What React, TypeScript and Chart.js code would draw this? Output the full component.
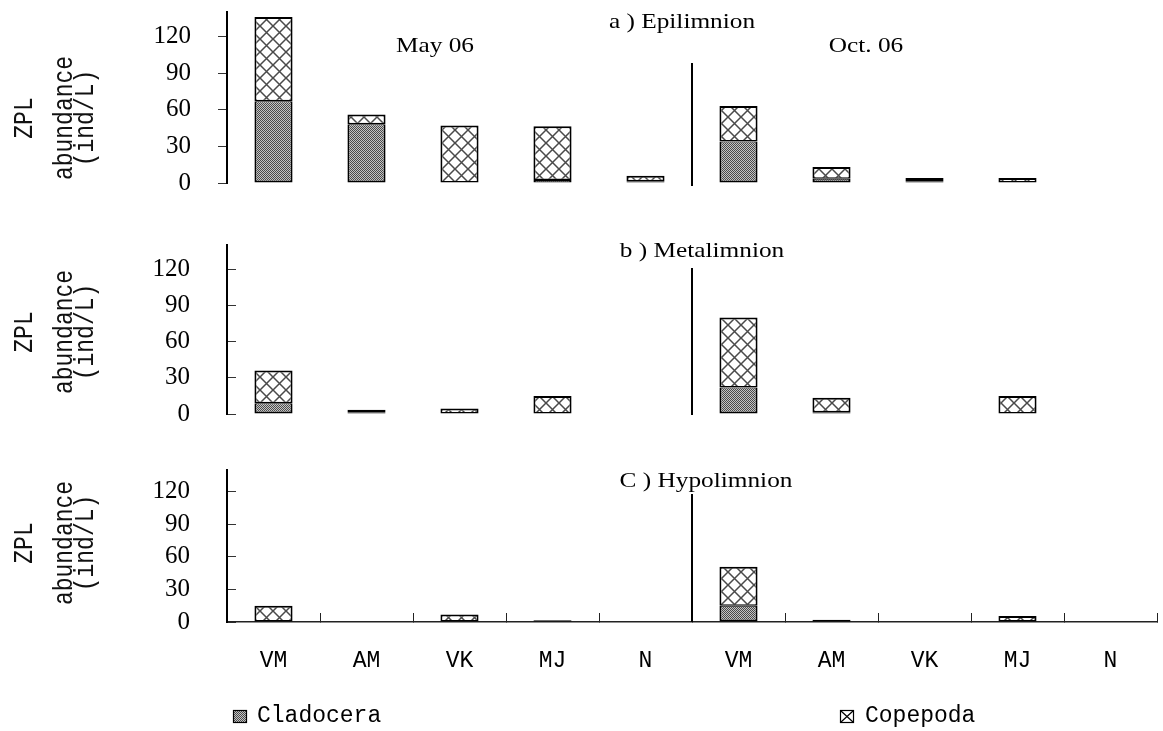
import React, { useEffect, useRef } from "react";
import { Chart, registerables } from "chart.js";

Chart.register(...registerables);

// ---------- data ----------
const categories = ["VM", "AM", "VK", "MJ", "N", "VM", "AM", "VK", "MJ", "N"];
const yTicks = [0, 30, 60, 90, 120];
const yMax = 140;
const seriesNames = ["Cladocera", "Copepoda"];
const panelTitles = ["a ) Epilimnion", "b ) Metalimnion", "C ) Hypolimnion"];
const periodLabels = ["May 06", "Oct. 06"];
const yTitleLines = ["ZPL", "abundance", "(ind/L)"];

const epiCladocera = [67, 48, 0, 2.5, 1.5, 34, 3.5, 1.5, 0.5, 0];
const epiCopepoda = [69, 8, 47, 44, 4.5, 29, 9.5, 2.5, 3.5, 0];

const metaCladocera = [9, 1, 0.5, 0, 0, 22, 1.5, 0, 0, 0];
const metaCopepoda = [27, 2.5, 4, 15, 0, 58, 12, 0, 15, 0];

const hypoCladocera = [0, 0, 0, 1.5, 0, 15, 2, 0, 0.5, 0];
const hypoCopepoda = [15, 0, 7, 0, 0, 36, 0, 0, 5, 0];

// ---------- layout ----------
const PAGE_W = 1163;
const PAGE_H = 731;
const AXIS_LEFT = 227;
const AXIS_RIGHT = 1157;
const X_AXIS_H = 60;
const SERIF = "'Liberation Serif', 'Times New Roman', serif";
const MONO = "'Liberation Mono', 'DejaVu Sans Mono', monospace";
const TEXT_STRETCH = 1.15;
const yTitleBaselines = [32, 72, 93];
const periodX = [435, 866];
const periodY = 52;

const panels = [
  {
    title: panelTitles[0], clad: epiCladocera, cope: epiCopepoda,
    areaTop: 12, areaBottom: 183, tickLen: 9, tickPad: 27, showX: false,
    titleX: 682, titleY: 28, dividerTop: 63, dividerBottom: 186, labelCy: 118,
  },
  {
    title: panelTitles[1], clad: metaCladocera, cope: metaCopepoda,
    areaTop: 245, areaBottom: 414, tickLen: -9, tickPad: 46, showX: false,
    titleX: 702, titleY: 257, dividerTop: 268, dividerBottom: 415, labelCy: 332,
  },
  {
    title: panelTitles[2], clad: hypoCladocera, cope: hypoCopepoda,
    areaTop: 470, areaBottom: 622, tickLen: -9, tickPad: 46, showX: true,
    titleX: 706, titleY: 487, dividerTop: 494, dividerBottom: 622, labelCy: 543,
  },
];

// ---------- patterns ----------
function makeCladPattern(ctx: CanvasRenderingContext2D) {
  const c = document.createElement("canvas");
  c.width = 4;
  c.height = 4;
  const g = c.getContext("2d")!;
  g.fillStyle = "#c4c4c4";
  g.fillRect(0, 0, 4, 4);
  g.fillStyle = "#4a4a4a";
  for (let y = 0; y < 4; y++)
    for (let x = 0; x < 4; x++) if ((x + y) % 2 === 0) g.fillRect(x, y, 1, 1);
  return ctx.createPattern(c, "repeat")!;
}

function makeCopePattern(ctx: CanvasRenderingContext2D) {
  const s = 13;
  const c = document.createElement("canvas");
  c.width = s;
  c.height = s;
  const g = c.getContext("2d")!;
  g.fillStyle = "#ffffff";
  g.fillRect(0, 0, s, s);
  g.strokeStyle = "#4a4a4a";
  g.lineWidth = 1.5;
  g.beginPath();
  g.moveTo(-1, -1);
  g.lineTo(s + 1, s + 1);
  g.moveTo(s + 1, -1);
  g.lineTo(-1, s + 1);
  g.stroke();
  return ctx.createPattern(c, "repeat")!;
}

// ---------- text helpers ----------
function drawStretched(ctx: CanvasRenderingContext2D, text: string, cx: number, by: number, sx: number) {
  ctx.save();
  ctx.translate(cx, by);
  ctx.scale(sx, 1);
  ctx.textAlign = "center";
  ctx.textBaseline = "alphabetic";
  ctx.fillText(text, 0, 0);
  ctx.restore();
}

function drawRotated(ctx: CanvasRenderingContext2D, text: string, bx: number, cy: number, sy: number) {
  ctx.save();
  ctx.translate(bx, cy);
  ctx.rotate(-Math.PI / 2);
  ctx.scale(1, sy);
  ctx.textAlign = "center";
  ctx.textBaseline = "alphabetic";
  ctx.fillText(text, 0, 0);
  ctx.restore();
}

function decorPlugin(p: any, idx: number, cladPat: CanvasPattern) {
  return {
    id: "decor" + idx,
    afterDraw(chart: any) {
      const ctx: CanvasRenderingContext2D = chart.ctx;
      const xs = chart.scales.x;
      ctx.save();
      ctx.fillStyle = "#000";
      ctx.font = `22px ${SERIF}`;
      drawStretched(ctx, p.title, p.titleX, p.titleY, TEXT_STRETCH);
      if (idx === 0) {
        periodLabels.forEach((t, k) => drawStretched(ctx, t, periodX[k], periodY, TEXT_STRETCH));
      }
      // divider between the two sampling periods
      const xDiv = (xs.getPixelForValue(4) + xs.getPixelForValue(5)) / 2;
      ctx.strokeStyle = "#000";
      ctx.lineWidth = 2;
      ctx.beginPath();
      ctx.moveTo(xDiv, p.dividerTop);
      ctx.lineTo(xDiv, p.dividerBottom);
      ctx.stroke();
      // y title
      ctx.fillStyle = "#111";
      ctx.font = `23px ${MONO}`;
      yTitleLines.forEach((t, k) => drawRotated(ctx, t, yTitleBaselines[k], p.labelCy, 1.2));
      // legend
      if (idx === 2) {
        ctx.lineWidth = 1.2;
        ctx.strokeStyle = "#000";
        ctx.fillStyle = cladPat;
        ctx.fillRect(233, 710, 14, 13);
        ctx.strokeRect(233.5, 710.5, 13, 12);
        ctx.fillStyle = "#fff";
        ctx.fillRect(840, 710, 14, 13);
        ctx.strokeRect(840.5, 710.5, 13, 12);
        ctx.beginPath();
        ctx.moveTo(841, 711);
        ctx.lineTo(853, 722);
        ctx.moveTo(853, 711);
        ctx.lineTo(841, 722);
        ctx.stroke();
        ctx.fillStyle = "#000";
        ctx.font = `23px ${MONO}`;
        ctx.textAlign = "left";
        ctx.textBaseline = "alphabetic";
        ctx.fillText(seriesNames[0], 257, 722);
        ctx.fillText(seriesNames[1], 865, 722);
      }
      ctx.restore();
    },
  };
}

function buildChart(canvas: HTMLCanvasElement, p: any, idx: number) {
  const ctx = canvas.getContext("2d")!;
  const cladPat = makeCladPattern(ctx);
  const copePat = makeCopePattern(ctx);
  const barCommon = {
    borderColor: "#000",
    borderSkipped: false,
    barPercentage: 0.41,
    categoryPercentage: 1,
    stack: "s",
  };
  const padBottom = p.showX ? PAGE_H - p.areaBottom - X_AXIS_H : PAGE_H - p.areaBottom;
  return new Chart(canvas, {
    type: "bar",
    data: {
      labels: categories,
      datasets: [
        {
          label: seriesNames[0], data: p.clad, backgroundColor: cladPat,
          borderWidth: { top: 1, left: 2, right: 2, bottom: 2 }, ...barCommon,
        } as any,
        {
          label: seriesNames[1], data: p.cope, backgroundColor: copePat,
          borderWidth: { top: 2, left: 2, right: 2, bottom: 1.5 }, ...barCommon,
        } as any,
      ],
    },
    options: {
      animation: false,
      responsive: false,
      maintainAspectRatio: false,
      events: [],
      layout: {
        padding: { top: p.areaTop, bottom: padBottom, left: 0, right: PAGE_W - AXIS_RIGHT },
      },
      plugins: {
        legend: { display: false },
        tooltip: { enabled: false },
        title: { display: false },
      },
      scales: {
        x: {
          stacked: true,
          display: p.showX,
          offset: true,
          grid: {
            display: true,
            offset: true,
            drawOnChartArea: false,
            drawTicks: true,
            tickLength: -9,
            tickWidth: 1,
            tickColor: "#222",
          },
          border: { display: true, color: "#222", width: 1.5 },
          ticks: {
            autoSkip: false,
            maxRotation: 0,
            minRotation: 0,
            padding: 34,
            color: "#000",
            font: { family: MONO, size: 23 },
          },
          afterFit: (s: any) => {
            s.height = p.showX ? X_AXIS_H : 0;
            s.paddingTop = 0;
            s.paddingBottom = 0;
            s.paddingLeft = 0;
            s.paddingRight = 0;
          },
        },
        y: {
          stacked: true,
          min: 0,
          max: yMax,
          afterBuildTicks: (s: any) => {
            s.ticks = yTicks.map((v) => ({ value: v }));
          },
          afterFit: (s: any) => {
            s.width = AXIS_LEFT;
            s.paddingTop = 0;
            s.paddingBottom = 0;
          },
          grid: {
            display: true,
            drawOnChartArea: false,
            drawTicks: true,
            tickLength: p.tickLen,
            tickWidth: 1,
            tickColor: "#333",
          },
          border: { display: true, color: "#000", width: 2 },
          ticks: {
            autoSkip: false,
            padding: p.tickPad,
            color: "#000",
            font: { family: SERIF, size: 25 },
          },
        },
      },
    } as any,
    plugins: [decorPlugin(p, idx, cladPat)],
  });
}

export default function App() {
  const r0 = useRef<HTMLCanvasElement>(null);
  const r1 = useRef<HTMLCanvasElement>(null);
  const r2 = useRef<HTMLCanvasElement>(null);
  const refs = [r0, r1, r2];

  useEffect(() => {
    const charts = panels.map((p, i) => buildChart(refs[i].current!, p, i));
    return () => charts.forEach((c) => c.destroy());
  }, []);

  return (
    <div
      style={{
        position: "absolute",
        left: 0,
        top: 0,
        width: PAGE_W,
        height: PAGE_H,
        background: "#fff",
        overflow: "hidden",
      }}
    >
      {panels.map((p, i) => (
        <canvas
          key={i}
          ref={refs[i]}
          width={PAGE_W}
          height={PAGE_H}
          style={{ position: "absolute", left: 0, top: 0, width: PAGE_W, height: PAGE_H }}
        />
      ))}
    </div>
  );
}
